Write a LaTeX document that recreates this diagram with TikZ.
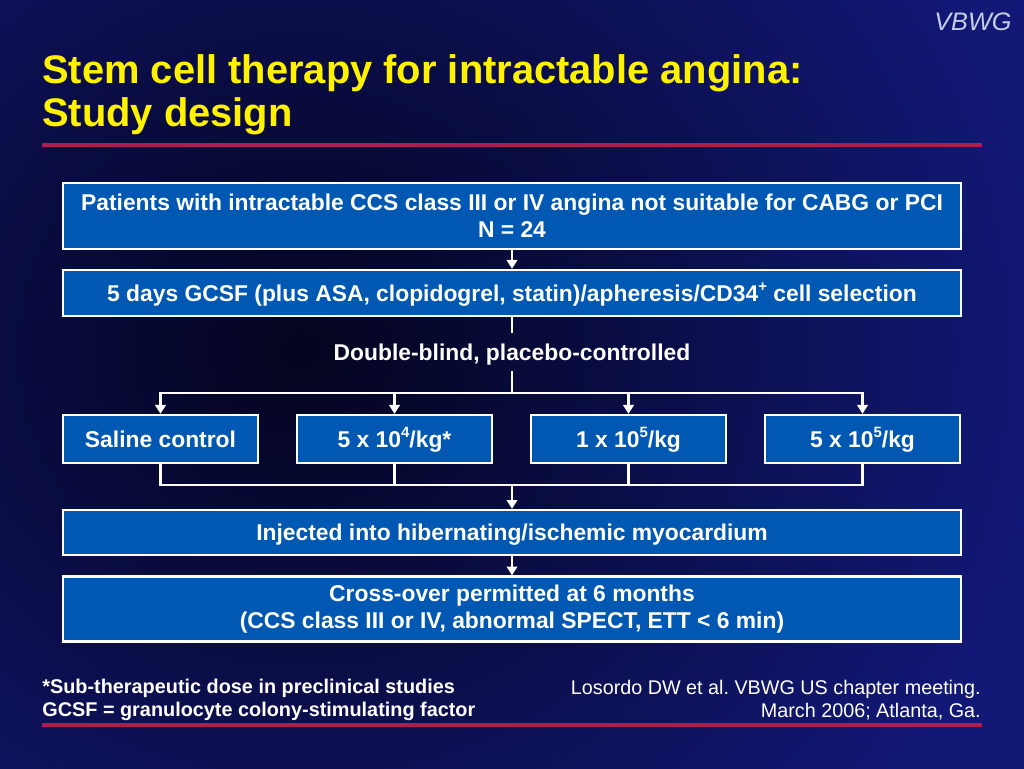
\documentclass[tikz,border=0pt]{standalone}
\usepackage{fontspec}
\setmainfont{Liberation Sans}
\definecolor{slidebg}{RGB}{18,24,118}
\definecolor{slidedark}{RGB}{4,4,30}
\definecolor{boxblue}{RGB}{0,88,178}
\definecolor{rule}{RGB}{176,28,78}
\definecolor{tag}{RGB}{196,206,228}
\tikzset{
  stage/.style={draw=white, line width=1.4pt, fill=boxblue, text=white,
    font=\bfseries\fontsize{13}{15.2}\selectfont, align=center, inner sep=0pt},
  oneline/.style={text height=9.3pt, text depth=0pt},
  wide/.style={stage, minimum width=17.96cm},
  dose/.style={stage, oneline, minimum width=3.9cm, minimum height=0.96cm},
  link/.style={draw=white, line width=1.2pt},
  tip/.style={link, -{Triangle[width=6pt,length=5pt]}},
}
\newcommand{\up}[1]{\raisebox{0.42em}{\fontsize{8.5}{8.5}\selectfont #1}}
\usetikzlibrary{arrows.meta}
\begin{document}
\begin{tikzpicture}[x=0.02cm, y=-0.02cm]
  \useasboundingbox (0,0) rectangle (1024,768);
  \begin{scope}
    \clip (0,0) rectangle (1024,768);
    \fill[slidebg] (0,0) rectangle (1024,768);
    \shade[inner color=slidedark, outer color=slidebg] (-450,-350) rectangle (1050,1050);
  \end{scope}
  % header
  \node[anchor=east, text=tag, inner sep=0pt, font=\itshape\fontsize{14.4}{16}\selectfont] (vbwg) at (1012,22) {VBWG};
  \node[anchor=west, text=yellow, inner sep=0pt, font=\bfseries\fontsize{22.7}{24.6}\selectfont, align=left] (title) at (42,95)
    {Stem cell therapy for intractable angina:\\Study design};
  \draw[rule, line width=2pt] (42,145) -- (982,145);
  % stages
  \draw
    (512,216) node[wide, minimum height=1.32cm] (pat){Patients with intractable CCS class III or IV angina not suitable for CABG or PCI\\N = 24}
    (512,293) node[wide, oneline, minimum height=0.92cm] (gcsf){5 days GCSF (plus ASA, clopidogrel, statin)/apheresis/CD34\up{+} cell selection}
    (512,352) node[oneline, text=white, font=\bfseries\fontsize{13}{15}\selectfont, minimum height=0.76cm, inner sep=0pt] (dbl){Double-blind, placebo-controlled}
    (160.5,439) node[dose] (d0){Saline control}
    (394.5,439) node[dose] (d1){5 x 10\up{4}/kg*}
    (628.5,439) node[dose] (d2){1 x 10\up{5}/kg}
    (862.5,439) node[dose] (d3){5 x 10\up{5}/kg}
    (512,532.5) node[wide, oneline, minimum height=0.9cm] (inj){Injected into hibernating/ischemic myocardium}
    (512,609) node[wide, minimum height=1.3cm] (cross){Cross-over permitted at 6 months\\(CCS class III or IV, abnormal SPECT, ETT < 6 min)};
  \coordinate (split) at (512,393);
  \coordinate (join) at (512,485);
  \begin{scope}[link]
    \draw[tip] (pat) to (gcsf);
    \draw (gcsf) to (dbl);
    \draw (dbl) to (split);
    \draw[tip] (split) -| (d0);
    \draw[tip] (split) -| (d1);
    \draw[tip] (split) -| (d2);
    \draw[tip] (split) -| (d3);
    \draw (d0) |- (join);
    \draw (d1) |- (join);
    \draw (d2) |- (join);
    \draw (d3) |- (join);
    \draw[tip] (join) to (inj);
    \draw[tip] (inj) to (cross);
  \end{scope}
  % footer
  \node[anchor=west, text=white, inner sep=0pt, font=\bfseries\fontsize{11.3}{13}\selectfont, align=left] (note) at (42,700)
    {*Sub-therapeutic dose in preclinical studies\\GCSF = granulocyte colony-stimulating factor};
  \node[anchor=east, text=white, inner sep=0pt, font=\fontsize{11.25}{13}\selectfont, align=right] (ref) at (981,700)
    {Losordo DW et al.\ VBWG US chapter meeting.\\March 2006; Atlanta, Ga.};
  \draw[rule, line width=2pt] (42,725) -- (982,725);
\end{tikzpicture}
\end{document}
